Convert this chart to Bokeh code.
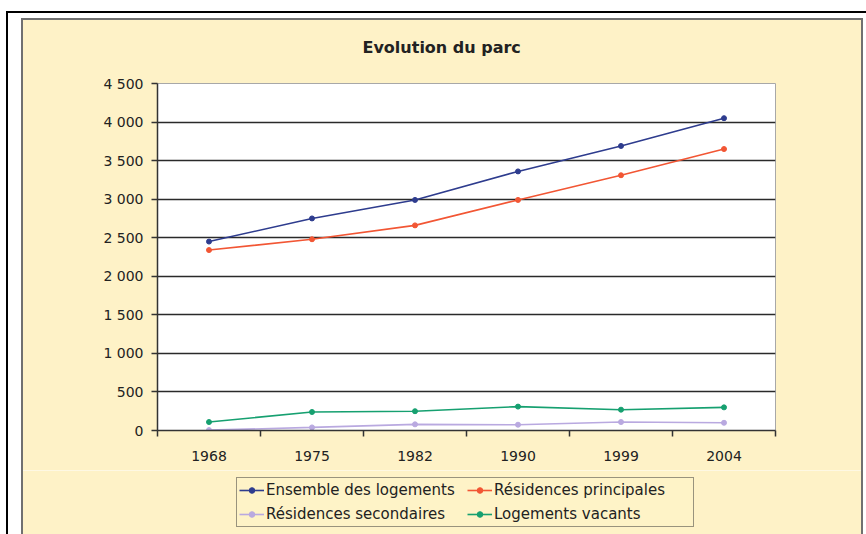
from bokeh.plotting import figure
from bokeh.models import Range1d, FixedTicker, Legend, LegendItem
from bokeh.layouts import column
from bokeh.embed import file_html
from bokeh.resources import INLINE

# ---- data ----
years = ["1968", "1975", "1982", "1990", "1999", "2004"]
ensemble = [2450, 2750, 2990, 3360, 3690, 4050]
principales = [2340, 2480, 2660, 2990, 3310, 3650]
secondaires = [5, 40, 80, 75, 110, 100]
vacants = [110, 240, 250, 310, 270, 300]
series_names = ["Ensemble des logements", "Résidences principales",
                "Résidences secondaires", "Logements vacants"]
y_ticks = [0, 500, 1000, 1500, 2000, 2500, 3000, 3500, 4000, 4500]
y_tick_labels = ["0", "500", "1 000", "1 500", "2 000", "2 500", "3 000",
                 "3 500", "4 000", "4 500"]
title_text = "Evolution du parc"

# ---- style ----
BEIGE = "#FEF2C7"
FONT = "DejaVu Sans"
colors = ["#2E3C8E", "#F25634", "#B9A9E0", "#16A070"]
all_series = [ensemble, principales, secondaires, vacants]

x = [i + 0.5 for i in range(len(years))]
bounds = list(range(len(years) + 1))

frame_css = """
:host { position: relative; }
:host::before {
  content: ""; position: absolute; left: 0; top: 0; width: 866px; height: 540px;
  box-sizing: border-box; border-left: 21px solid white; border-top: 18px solid white;
  border-right: 3px solid white; box-shadow: inset 2px 2px 0 #707070, inset -2px 0 0 #707070;
  z-index: 10; pointer-events: none;
}
:host::after {
  content: ""; position: absolute; left: 6px; top: 11px; width: 870px; height: 540px;
  border-left: 2px solid black; border-top: 2px solid black;
  z-index: 11; pointer-events: none;
}
"""

p = figure(width=866, height=470, output_backend="svg", toolbar_location=None,
           x_range=Range1d(0, len(years)), y_range=Range1d(0, 4500),
           min_border_left=157, min_border_right=91, min_border_top=83,
           min_border_bottom=40, background_fill_color="white",
           border_fill_color=BEIGE, outline_line_color="#a8a8a8",
           frame_align=False)

p.title.text = title_text
p.title.align = "left"
p.title.offset = 205
p.title.text_font = FONT
p.title.text_font_size = "16px"
p.title.text_font_style = "bold"
p.title.text_color = "#222222"
p.title.standoff = 53

# x axis: labels at category centers, tick marks between categories
xa = p.xaxis[0]
xa.ticker = FixedTicker(ticks=x, minor_ticks=bounds)
xa.major_label_overrides = {xv: yr for xv, yr in zip(x, years)}
xa.major_tick_in = 0
xa.major_tick_out = 0
xa.minor_tick_in = 0
xa.minor_tick_out = 6
xa.minor_tick_line_color = "#333333"
xa.minor_tick_line_width = 1.5
xa.axis_line_color = "#333333"
xa.axis_line_width = 1.5
xa.major_label_standoff = 14
xa.major_label_text_font = FONT
xa.major_label_text_font_size = "14px"
xa.major_label_text_color = "#222222"

ya = p.yaxis[0]
ya.ticker = FixedTicker(ticks=y_ticks)
ya.major_label_overrides = {t: l for t, l in zip(y_ticks, y_tick_labels)}
ya.major_tick_in = 0
ya.major_tick_out = 6
ya.minor_tick_line_color = None
ya.major_tick_line_color = "#333333"
ya.major_tick_line_width = 1.5
ya.axis_line_color = "#333333"
ya.axis_line_width = 1.5
ya.major_label_standoff = 8
ya.major_label_text_font = FONT
ya.major_label_text_font_size = "14px"
ya.major_label_text_color = "#222222"

p.xgrid.visible = False
p.ygrid.ticker = FixedTicker(ticks=y_ticks)
p.ygrid.grid_line_color = "#2a2a2a"
p.ygrid.grid_line_width = 1.3

for vals, c in zip(all_series, colors):
    p.line(x, vals, line_color=c, line_width=1.6)
    p.scatter(x, vals, size=5, fill_color=c, line_color=c)

# legend strip (separate figure so the legend is not clipped by the plot frame);
# its ranges keep the series out of view, only the legend shows
p2 = figure(width=866, height=64, output_backend="svg", toolbar_location=None,
            x_range=Range1d(100, 101), y_range=Range1d(-20000, -19000),
            x_axis_location=None, y_axis_location=None, min_border=0,
            background_fill_color=BEIGE, border_fill_color=BEIGE,
            outline_line_color=None, frame_align=False)
p2.grid.visible = False

items = []
for name, vals, c in zip(series_names, all_series, colors):
    r = p2.line(x, vals, line_color=c, line_width=1.6)
    s = p2.scatter(x, vals, size=5, fill_color=c, line_color=c)
    items.append(LegendItem(label=name, renderers=[r, s]))

legend = Legend(items=[items[0], items[2], items[1], items[3]], ncols=2,
                location=(236, 7), border_line_color="#333333",
                border_line_width=1.5, background_fill_color=BEIGE,
                label_text_font=FONT, label_text_font_size="15px",
                label_text_color="#222222", glyph_width=25, glyph_height=14,
                label_standoff=2, padding=2, spacing=4, margin=0,
                label_height=20, label_width=197)
p2.add_layout(legend)

layout = column(p, p2, spacing=0, stylesheets=[frame_css])

open("out.html", "w").write(file_html(layout, INLINE))
